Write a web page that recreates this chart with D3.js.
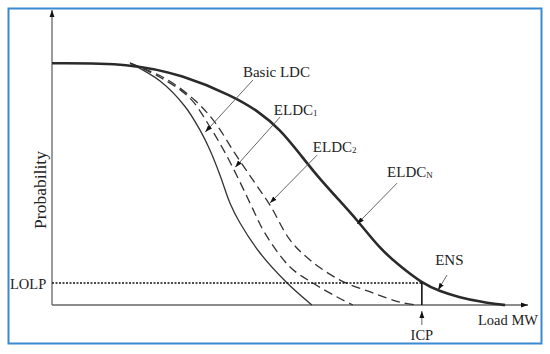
<!DOCTYPE html>
<html>
<head>
<meta charset="utf-8">
<script src="https://cdn.jsdelivr.net/npm/d3@7"></script>
<style>
  body { margin: 0; background: #fff; }
</style>
</head>
<body>
<div id="chart"><svg></svg></div>
<script>
// load (% of max) / probability
const basicLoad = [16.4, 22.7, 27.9, 31.1, 33.2, 35.3, 37.4, 39.5, 43.7, 49.4, 54.6]
const basicProb = [1, 0.926, 0.822, 0.723, 0.640, 0.537, 0.421, 0.339, 0.215, 0.091, 0]

const eldc1Load = [16.4, 22.7, 29.0, 33.2, 36.3, 39.5, 42.0, 44.7, 50.0, 54.8, 59.9, 63.2]
const eldc1Prob = [1, 0.942, 0.855, 0.736, 0.632, 0.508, 0.405, 0.298, 0.157, 0.091, 0.033, 0]

const eldc2Load = [16.4, 23.7, 30.0, 34.2, 38.4, 42.2, 45.8, 50.0, 54.2, 60.5, 67.4, 73.1, 76.7]
const eldc2Prob = [1, 0.938, 0.847, 0.756, 0.628, 0.517, 0.413, 0.269, 0.186, 0.103, 0.050, 0.012, 0]

const eldcNLoad = [0, 16.4, 27.5, 38.0, 43.3, 47.9, 52.1, 55.9, 60.1, 64.1, 68.9, 73.1, 77.7, 81.5, 85.7, 89.9, 93.1, 95.2]
const eldcNProb = [1, 1, 0.951, 0.864, 0.802, 0.727, 0.624, 0.529, 0.438, 0.352, 0.232, 0.161, 0.091, 0.056, 0.031, 0.014, 0.004, 0]

const LOLP = 0.091
const ICP = 77.7

// label, text anchor point, arrow from, arrow to (data units)
const labels = ['Basic LDC', 'ELDC|1', 'ELDC|2', 'ELDC|N', 'ENS']
const labelAt = [[40.1, 0.942], [46.6, 0.785], [54.8, 0.632], [70.4, 0.529], [80.5, 0.165]]
const arrowFrom = [[42.2, 0.930], [47.9, 0.777], [55.7, 0.620], [72.5, 0.504], [83.0, 0.124]]
const arrowTo = [[32.2, 0.715], [38.5, 0.570], [45.8, 0.422], [64.1, 0.335], [81.1, 0.062]]

const width = 550, height = 354
const font = 'Liberation Serif'
const svg = d3.select('#chart').select('svg')
  .attr('width', width)
  .attr('height', height)

const x = d3.scaleLinear().domain([0, 100]).range([52, 528])
const y = d3.scaleLinear().domain([0, 1.22]).range([305, 10])

svg.append('defs').append('marker')
  .attr('id', 'tip')
  .attr('viewBox', '0 0 10 10')
  .attr('refX', 10).attr('refY', 5)
  .attr('markerWidth', 7).attr('markerHeight', 7)
  .attr('markerUnits', 'userSpaceOnUse')
  .attr('orient', 'auto')
  .append('path')
  .attr('d', 'M0,1.5L10,5L0,8.5Z')
  .attr('fill', '#111')

// frame
svg.append('rect')
  .attr('x', 8.5).attr('y', 8.5)
  .attr('width', 533).attr('height', 335)
  .attr('fill', 'none')
  .attr('stroke', '#3a8ad2')
  .attr('stroke-width', 2)

// axes
svg.append('line')
  .attr('x1', x(0)).attr('y1', y(0))
  .attr('x2', x(100)).attr('y2', y(0))
  .attr('stroke', '#666').attr('stroke-width', 1.3)
  .attr('marker-end', 'url(#tip)')
svg.append('line')
  .attr('x1', x(0)).attr('y1', y(0))
  .attr('x2', x(0)).attr('y2', y(1.22))
  .attr('stroke', '#666').attr('stroke-width', 1.3)
  .attr('marker-end', 'url(#tip)')

const line = d3.line()
  .x(d => x(d[0]))
  .y(d => y(d[1]))
  .curve(d3.curveCatmullRom.alpha(0.5))

// thick curve is drawn smoother
const smooth = d3.line()
  .x(d => x(d[0]))
  .y(d => y(d[1]))
  .curve(d3.curveBasis)

const zip = (a, b) => a.map((v, i) => [v, b[i]])

svg.append('path')
  .attr('d', line(zip(basicLoad, basicProb)))
  .attr('fill', 'none').attr('stroke', '#333').attr('stroke-width', 1.3)

svg.append('path')
  .attr('d', line(zip(eldc1Load, eldc1Prob)))
  .attr('fill', 'none').attr('stroke', '#333').attr('stroke-width', 1.3)
  .attr('stroke-dasharray', '9,5')

svg.append('path')
  .attr('d', line(zip(eldc2Load, eldc2Prob)))
  .attr('fill', 'none').attr('stroke', '#333').attr('stroke-width', 1.3)
  .attr('stroke-dasharray', '9,5')

svg.append('path')
  .attr('d', smooth(zip(eldcNLoad, eldcNProb)))
  .attr('fill', 'none').attr('stroke', '#2a2a2a').attr('stroke-width', 2.6)

// LOLP / ICP
svg.append('line')
  .attr('x1', x(0)).attr('y1', y(LOLP))
  .attr('x2', x(ICP)).attr('y2', y(LOLP))
  .attr('stroke', '#111').attr('stroke-width', 1.6)
  .attr('stroke-dasharray', '2,1.5')
svg.append('line')
  .attr('x1', x(ICP)).attr('y1', y(LOLP))
  .attr('x2', x(ICP)).attr('y2', y(0))
  .attr('stroke', '#111').attr('stroke-width', 1.6)
svg.append('line')
  .attr('x1', x(ICP)).attr('y1', y(0) + 20)
  .attr('x2', x(ICP)).attr('y2', y(0) + 6)
  .attr('stroke', '#555').attr('stroke-width', 0.9)
  .attr('marker-end', 'url(#tip)')

// annotation arrows
labels.forEach((lab, i) => {
  svg.append('line')
    .attr('x1', x(arrowFrom[i][0])).attr('y1', y(arrowFrom[i][1]))
    .attr('x2', x(arrowTo[i][0])).attr('y2', y(arrowTo[i][1]))
    .attr('stroke', '#555').attr('stroke-width', 0.9)
    .attr('marker-end', 'url(#tip)')
  const parts = lab.split('|')
  const t = svg.append('text')
    .attr('x', x(labelAt[i][0])).attr('y', y(labelAt[i][1]))
    .attr('font-family', font)
    .attr('font-size', '15px').attr('fill', '#222')
  t.append('tspan').text(parts[0])
  if (parts[1]) t.append('tspan').attr('font-size', '9px').attr('dy', 0.5).text(parts[1])
})

svg.append('text')
  .attr('x', 10).attr('y', y(LOLP) + 6)
  .attr('font-family', font)
  .attr('font-size', '14.5px').attr('fill', '#222')
  .text('LOLP')

svg.append('text')
  .attr('x', x(ICP)).attr('y', 340)
  .attr('text-anchor', 'middle')
  .attr('font-family', font)
  .attr('font-size', '14.5px').attr('fill', '#222')
  .text('ICP')

svg.append('text')
  .attr('x', 478).attr('y', 325)
  .attr('font-family', font)
  .attr('font-size', '14.5px').attr('fill', '#222')
  .text('Load MW')

svg.append('text')
  .attr('transform', 'translate(46,190) rotate(-90)')
  .attr('text-anchor', 'middle')
  .attr('font-family', font)
  .attr('font-size', '17.5px').attr('fill', '#222')
  .text('Probability')
</script>
</body>
</html>
